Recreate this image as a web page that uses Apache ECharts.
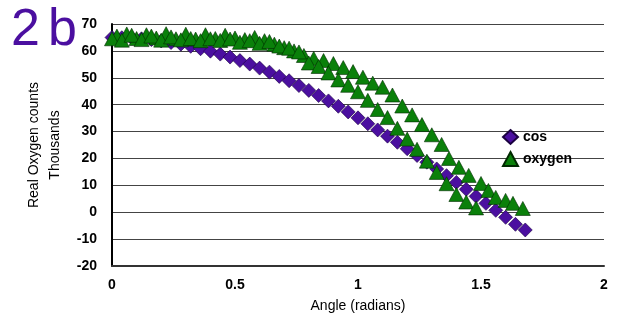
<!DOCTYPE html>
<html>
<head>
<meta charset="utf-8">
<script src="https://cdn.jsdelivr.net/npm/echarts@6/dist/echarts.min.js"></script>
<style>
  html, body { margin: 0; padding: 0; background: #fff; }
  #chart { width: 620px; height: 320px; }
</style>
</head>
<body>
<div id="chart"></div>
<script>
// angle (radians) vs counts (thousands)
const cosAngles = [0, 0.04, 0.08, 0.12, 0.16, 0.20, 0.24, 0.28, 0.32, 0.36, 0.40, 0.44, 0.48, 0.52,
  0.56, 0.60, 0.64, 0.68, 0.72, 0.76, 0.80, 0.84, 0.88, 0.92, 0.96, 1.00, 1.04, 1.08, 1.12, 1.16,
  1.20, 1.24, 1.28, 1.32, 1.36, 1.40, 1.44, 1.48, 1.52, 1.56, 1.60, 1.64, 1.68];
const cosValues = [65.0, 64.9, 64.8, 64.5, 64.2, 63.7, 63.1, 62.5, 61.7, 60.8, 59.9, 58.8, 57.7, 56.4,
  55.1, 53.6, 52.1, 50.5, 48.9, 47.1, 45.3, 43.4, 41.4, 39.4, 37.3, 35.1, 32.9, 30.6, 28.3, 26.0,
  23.6, 21.1, 18.6, 16.1, 13.6, 11.1, 8.5, 5.9, 3.3, 0.7, -1.9, -4.5, -6.6];

// oxygen, first sweep (upper curve)
const oxyAnglesA = [0.02, 0.06, 0.10, 0.14, 0.18, 0.22, 0.26, 0.30, 0.34, 0.38, 0.42, 0.46, 0.50, 0.54,
  0.58, 0.62, 0.66, 0.70, 0.74, 0.78, 0.82, 0.86, 0.90, 0.94, 0.98, 1.02, 1.06, 1.10, 1.14, 1.18,
  1.22, 1.26, 1.30, 1.34, 1.37, 1.41, 1.45, 1.50, 1.53, 1.56, 1.60, 1.63, 1.67];
const oxyValuesA = [65.5, 66.3, 64.6, 66.0, 64.8, 66.4, 64.5, 66.2, 64.4, 66.0, 64.6, 65.8, 64.8, 64.2,
  65.0, 63.8, 62.5, 61.2, 60.0, 58.3, 57.2, 56.4, 55.3, 53.8, 52.3, 50.2, 48.0, 46.5, 43.6, 39.5,
  36.2, 32.6, 28.8, 25.2, 20.0, 16.7, 13.7, 10.7, 8.1, 5.5, 4.4, 3.3, 1.4];

// oxygen, second sweep (lower curve)
const oxyAnglesB = [0, 0.04, 0.08, 0.12, 0.16, 0.20, 0.24, 0.28, 0.32, 0.36, 0.40, 0.44, 0.48, 0.52,
  0.56, 0.60, 0.64, 0.68, 0.72, 0.76, 0.80, 0.84, 0.88, 0.92, 0.96, 1.00, 1.04, 1.08, 1.12, 1.16,
  1.20, 1.24, 1.28, 1.32, 1.36, 1.40, 1.44, 1.48];
const oxyValuesB = [64.5, 64.0, 65.8, 64.2, 65.5, 64.0, 65.2, 64.1, 64.6, 63.8, 64.5, 63.9, 64.4, 63.2,
  63.8, 62.8, 63.5, 61.8, 61.0, 59.6, 55.5, 54.2, 51.8, 49.2, 47.2, 44.8, 41.6, 38.2, 35.2, 31.2,
  27.2, 23.4, 19.0, 14.8, 10.6, 6.6, 3.8, 1.6];

const xMin = 0, xMax = 2, xStep = 0.5;
const yMin = -20, yMax = 70, yStep = 10;

const purple = '#4b0fa0';
const green = '#0a800a';

const pairs = (xs, ys) => xs.map((x, i) => [x, ys[i]]);

const chart = echarts.init(document.getElementById('chart'));

const labelFont = '52px "Liberation Sans", Arial, sans-serif';

const option = {
  animation: false,
  backgroundColor: '#fff',
  textStyle: { fontFamily: 'Liberation Sans, Arial, sans-serif' },
  grid: { left: 112, right: 16, top: 24, bottom: 54 },
  graphic: [
    // panel label "2b", letters set a little apart
    { type: 'text', left: 11, top: 5, style: { text: '2', fill: purple, font: labelFont } },
    { type: 'text', left: 48, top: 5, style: { text: 'b', fill: purple, font: labelFont } }
  ],
  legend: {
    orient: 'vertical',
    left: 497,
    top: 124,
    itemWidth: 15,
    itemHeight: 14,
    itemGap: 6,
    textStyle: { color: '#000', fontWeight: 'bold', fontSize: 14 },
    data: [
      { name: 'cos', icon: 'diamond' },
      { name: 'oxygen', icon: 'triangle' }
    ]
  },
  xAxis: {
    type: 'value',
    min: xMin,
    max: xMax,
    interval: xStep,
    name: 'Angle (radians)',
    nameLocation: 'middle',
    nameGap: 33,
    nameTextStyle: { color: '#000', fontSize: 14 },
    axisLine: { show: true, onZero: false, lineStyle: { color: '#333', width: 2 } },
    axisTick: { show: false },
    axisLabel: { color: '#000', fontWeight: 'bold', fontSize: 14, margin: 12 },
    splitLine: { show: false }
  },
  yAxis: {
    type: 'value',
    min: yMin,
    max: yMax,
    interval: yStep,
    name: 'Real Oxygen counts\nThousands',
    nameLocation: 'middle',
    nameRotate: 90,
    nameGap: 45,
    nameTextStyle: { color: '#000', fontSize: 14, lineHeight: 21 },
    axisLine: { show: true, lineStyle: { color: '#000', width: 2 } },
    axisTick: { show: false },
    axisLabel: { color: '#000', fontWeight: 'bold', fontSize: 14, margin: 15 },
    splitLine: { show: true, lineStyle: { color: '#444', width: 1 } }
  },
  series: [
    {
      name: 'cos',
      type: 'scatter',
      symbol: 'diamond',
      symbolSize: [14, 14],
      itemStyle: { color: purple, opacity: 1, borderColor: '#1a0040', borderWidth: 0.6 },
      data: pairs(cosAngles, cosValues),
      z: 2
    },
    {
      name: 'oxygen',
      type: 'scatter',
      symbol: 'triangle',
      symbolSize: [15, 14],
      itemStyle: { color: green, opacity: 1, borderColor: '#002a00', borderWidth: 0.6 },
      data: pairs(oxyAnglesA, oxyValuesA).concat(pairs(oxyAnglesB, oxyValuesB)),
      z: 3
    }
  ]
};

chart.setOption(option);
</script>
</body>
</html>
